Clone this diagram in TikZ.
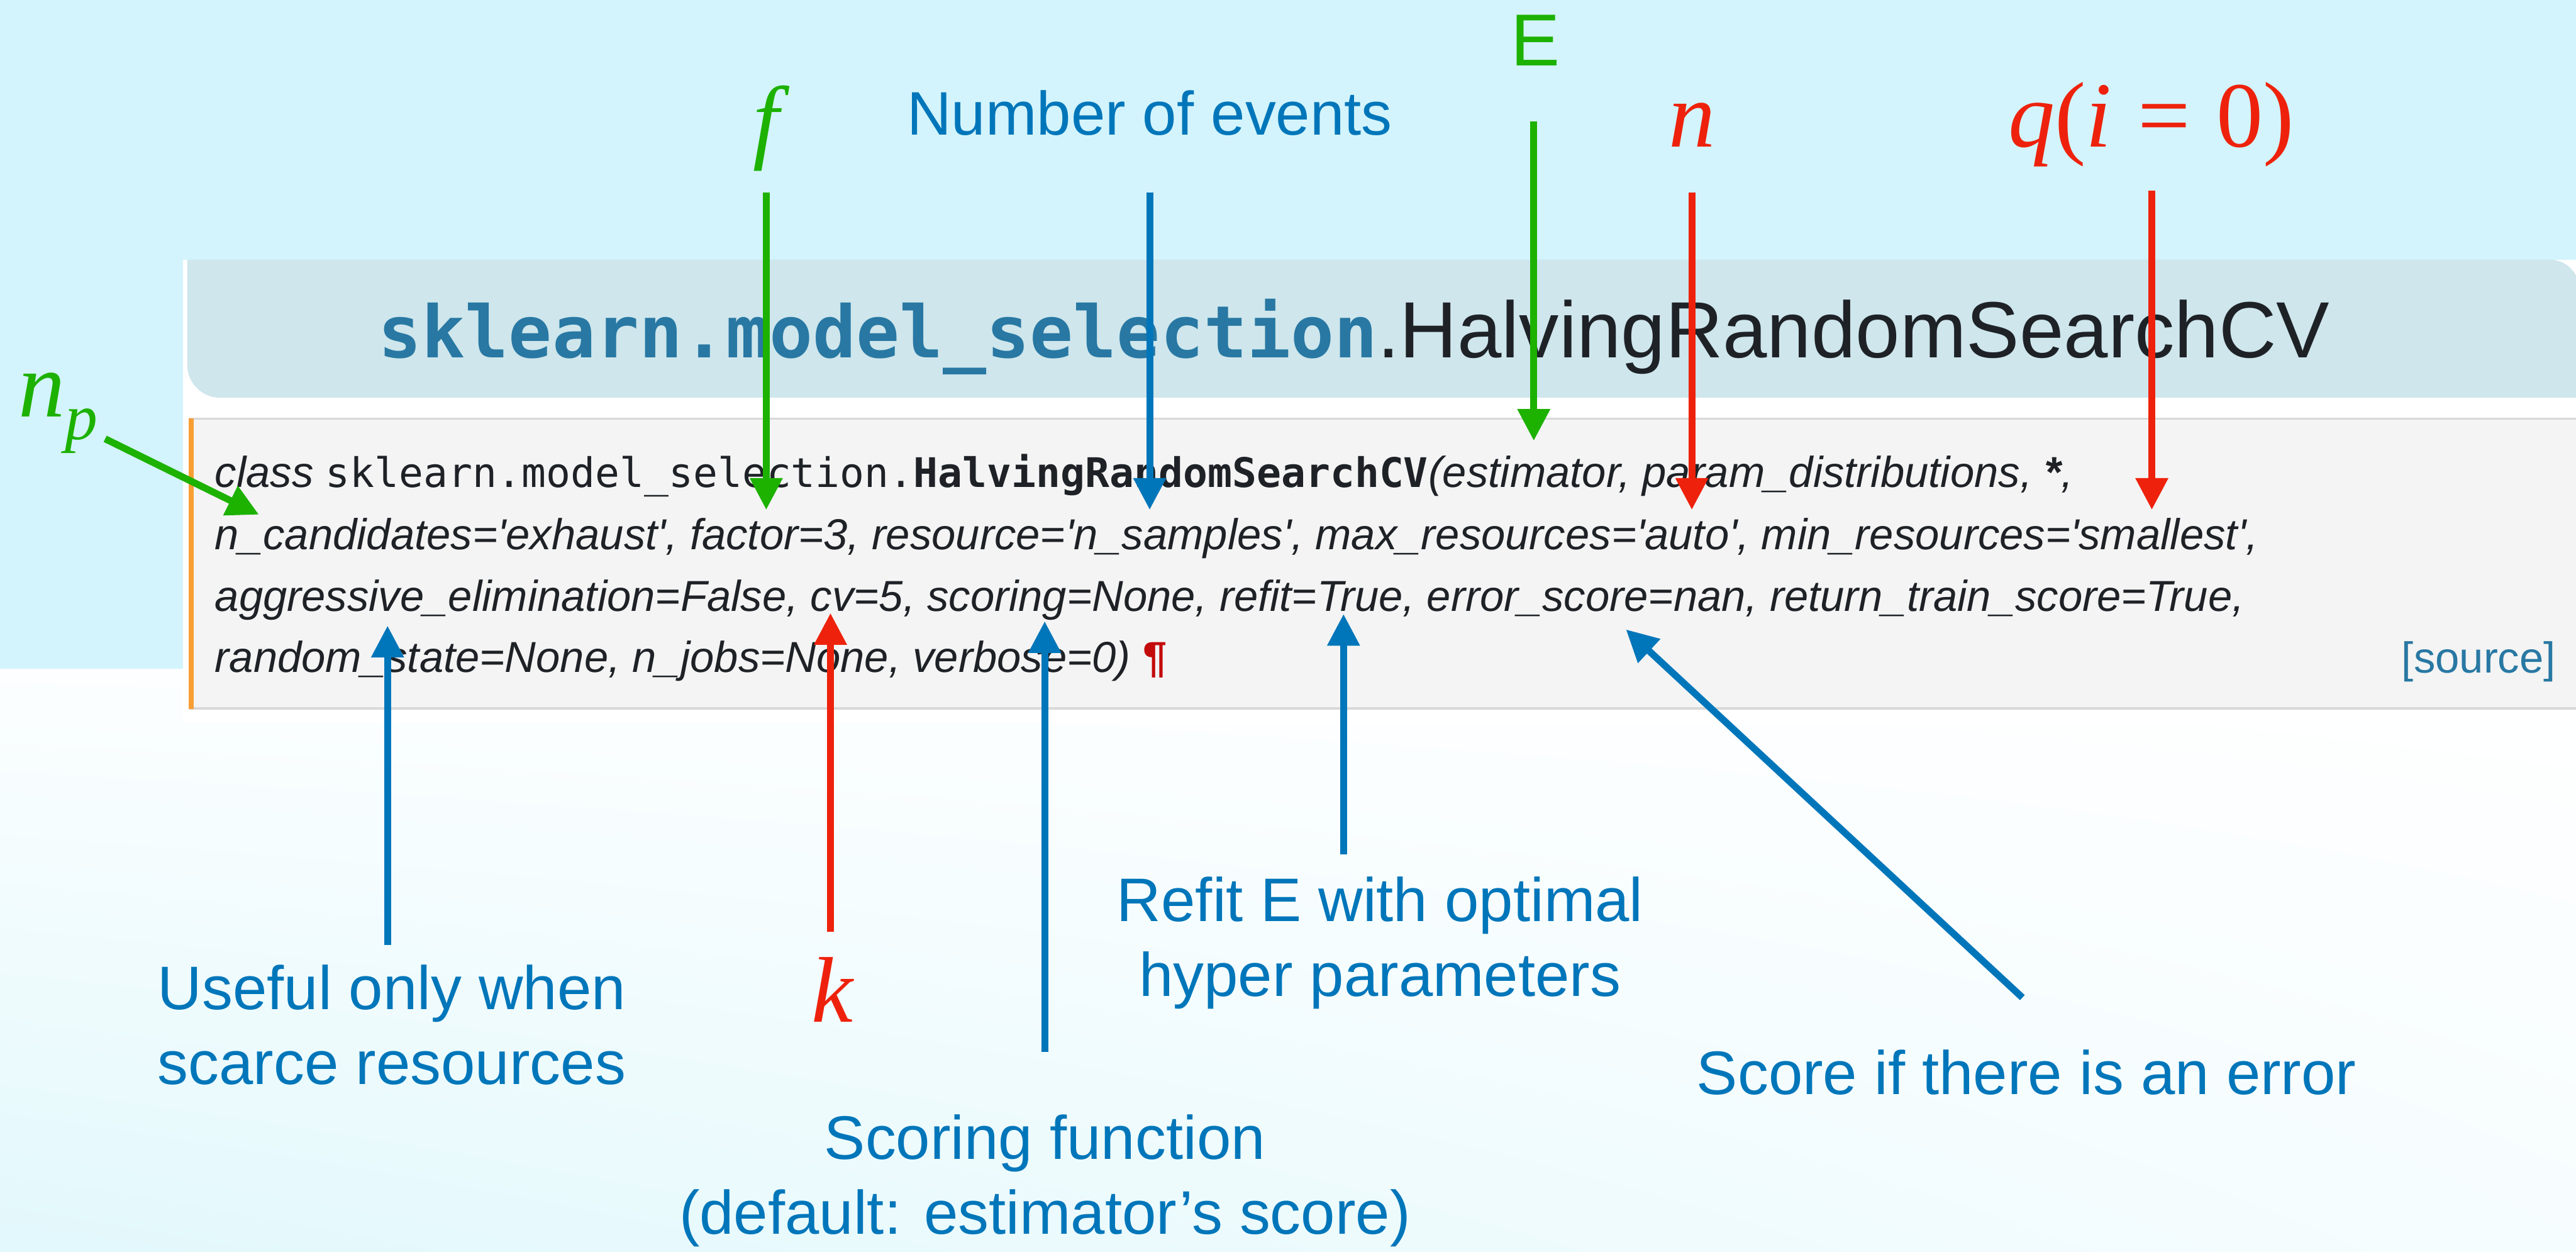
\documentclass[tikz,border=0pt]{standalone}
\usepackage{fontspec}
\setmainfont{Liberation Sans}
\setmonofont{DejaVu Sans Mono}
\newfontfamily\mathserif{Liberation Serif}
\usetikzlibrary{arrows.meta,shadings}

\definecolor{skyback}{HTML}{D3F4FC}
\definecolor{skyfade}{HTML}{E2F8FC}
\definecolor{titleback}{HTML}{CEE6EC}
\definecolor{codeback}{HTML}{F4F4F4}
\definecolor{codeedge}{HTML}{D8D8D8}
\definecolor{codebar}{HTML}{F89E35}
\definecolor{inkdark}{HTML}{1E2227}
\definecolor{linkblue}{HTML}{2878A3}
\definecolor{notered}{HTML}{EE220C}
\definecolor{notegreen}{HTML}{1DB100}
\definecolor{noteblue}{HTML}{0076BA}
\definecolor{pilcrowred}{HTML}{C30B0B}

\newcommand{\mvar}[1]{{\mathserif\itshape #1}}
\newcommand{\mup}[1]{{\mathserif #1}}
\newcommand{\qs}{\textquotesingle}
\newcommand{\codett}{\fontsize{14.1}{18}\selectfont\ttfamily\upshape}

\tikzset{
  note/.style={inner sep=0pt, align=center, text=noteblue, font=\fontsize{21.3}{25.9}\selectfont},
  sym/.style={inner sep=0pt, font=\fontsize{32.3}{38}\selectfont},
  codeline/.style={inner sep=0pt, anchor=base west, text=inkdark, font=\fontsize{15}{18}\selectfont\itshape},
  pointer/.style={line width=2.4pt, -{Triangle[length=11pt,width=10.8pt]}},
}

\begin{document}
\begin{tikzpicture}[x=0.02cm, y=-0.02cm]
    \useasboundingbox (0,0) rectangle (1568,761.6);
    \clip (0,0) rectangle (1568,761.6);

    \fill[skyback] (0,0) rectangle (1568,761.6);
    \shade[upper left=white!90!skyfade, upper right=white, lower left=skyfade, lower right=white!70!skyfade] (0,407) rectangle (1568,761.6);
    \fill[white] (111.4,158) rectangle (1568,440);

    \fill[titleback] (114,158) -- (1552,158) arc[start angle=270, end angle=360, radius=18]
        -- (1570,242) -- (134,242) arc[start angle=90, end angle=180, radius=20] -- cycle;
    \fill[codeback] (114.7,254.5) rectangle (1570,431.6);
    \draw[codeedge, line width=0.6pt] (114.7,254.8) -- (1570,254.8);
    \draw[codeedge, line width=0.9pt] (114.7,431.2) -- (1570,431.2);
    \fill[codebar] (114.7,254.5) rectangle (117.9,431.6);

    \node[inner sep=0pt, anchor=base west] (title) at (230,217.8)
        {{\fontsize{25}{30}\selectfont\ttfamily\bfseries\color{linkblue}sklearn.model\_selection}{\fontsize{27.6}{33}\selectfont\color{inkdark}.HalvingRandomSearchCV}};

    \node[codeline] (sig1) at (130.5,296.6)
        {class {\codett sklearn.model\_selection.\bfseries HalvingRandomSearchCV}(estimator, param\_distributions, {\bfseries *},};
    \node[codeline] (sig2) at (130.5,334.5)
        {n\_candidates=\qs exhaust\qs, factor=3, resource=\qs n\_samples\qs, max\_resources=\qs auto\qs, min\_resources=\qs smallest\qs,};
    \node[codeline] (sig3) at (130.5,371.8)
        {aggressive\_elimination=False, cv=5, scoring=None, refit=True, error\_score=nan, return\_train\_score=True,};
    \node[codeline] (sig4) at (130.5,409.1)
        {random\_state=None, n\_jobs=None, verbose=0) {\color{pilcrowred}\upshape\bfseries ¶}};
    \node[inner sep=0pt, anchor=base east, text=linkblue, font=\fontsize{15}{18}\selectfont] (src) at (1556,409.6) {[source]};

    \node[sym, anchor=base west, text=notegreen] (np) at (11,253.6) {\mvar{n}\raisebox{-7.9pt}{\fontsize{22.6}{26}\selectfont\mvar{p}}};
    \node[sym, anchor=base, text=notegreen] (f) at (466.4,92) {\mvar{f}};
    \node[note, anchor=base] (events) at (699.8,82) {Number of events};
    \node[inner sep=0pt, anchor=base, text=notegreen, font=\fontsize{25.5}{30}\selectfont] (E) at (934.5,40) {E};
    \node[sym, anchor=base, text=notered] (n) at (1029.8,89.5) {\mvar{n}};
    \node[sym, anchor=base, text=notered] (q) at (1309.5,89.5) {\mvar{q}\mup{(}\mvar{i}\mup{\hspace{0.28em}=\hspace{0.28em}0)}};

    \node[note, anchor=base] (useful) at (238.5,659.9) {Useful only when\\scarce resources};
    \node[sym, anchor=base, text=notered] (k) at (506.5,622) {\mvar{k}};
    \node[note, anchor=base] (scoring) at (636,751) {Scoring function\\(default: estimator’s score)};
    \node[note, anchor=base] (refit) at (840,606) {Refit E with optimal\\hyper parameters};
    \node[note, anchor=base] (errscore) at (1233.5,666) {Score if there is an error};

    \coordinate (npFrom) at (64,267);
    \coordinate (npTo) at (157.6,313.1);
    \coordinate (fFrom) at (466.4,117);
    \coordinate (fTo) at (466.4,310.2);
    \coordinate (evFrom) at (699.8,117);
    \coordinate (evTo) at (699.8,310.2);
    \coordinate (EFrom) at (933.6,74);
    \coordinate (ETo) at (933.6,268.2);
    \coordinate (nFrom) at (1029.8,117);
    \coordinate (nTo) at (1029.8,310.2);
    \coordinate (qFrom) at (1309.8,115.8);
    \coordinate (qTo) at (1309.8,310.2);
    \coordinate (useFrom) at (235.9,575);
    \coordinate (useTo) at (235.9,380.7);
    \coordinate (kFrom) at (505.5,567);
    \coordinate (kTo) at (505.5,373);
    \coordinate (scFrom) at (635.9,640);
    \coordinate (scTo) at (635.9,378);
    \coordinate (rfFrom) at (817.8,520);
    \coordinate (rfTo) at (817.8,373.6);
    \coordinate (erFrom) at (1231,607);
    \coordinate (erTo) at (989.7,383);

    \draw[pointer, notegreen] (npFrom) -- (npTo);
    \draw[pointer, notegreen] (fFrom) -- (fTo);
    \draw[pointer, noteblue] (evFrom) -- (evTo);
    \draw[pointer, notegreen] (EFrom) -- (ETo);
    \draw[pointer, notered] (nFrom) -- (nTo);
    \draw[pointer, notered] (qFrom) -- (qTo);
    \draw[pointer, noteblue] (useFrom) -- (useTo);
    \draw[pointer, notered] (kFrom) -- (kTo);
    \draw[pointer, noteblue] (scFrom) -- (scTo);
    \draw[pointer, noteblue] (rfFrom) -- (rfTo);
    \draw[pointer, noteblue] (erFrom) -- (erTo);
\end{tikzpicture}
\end{document}
